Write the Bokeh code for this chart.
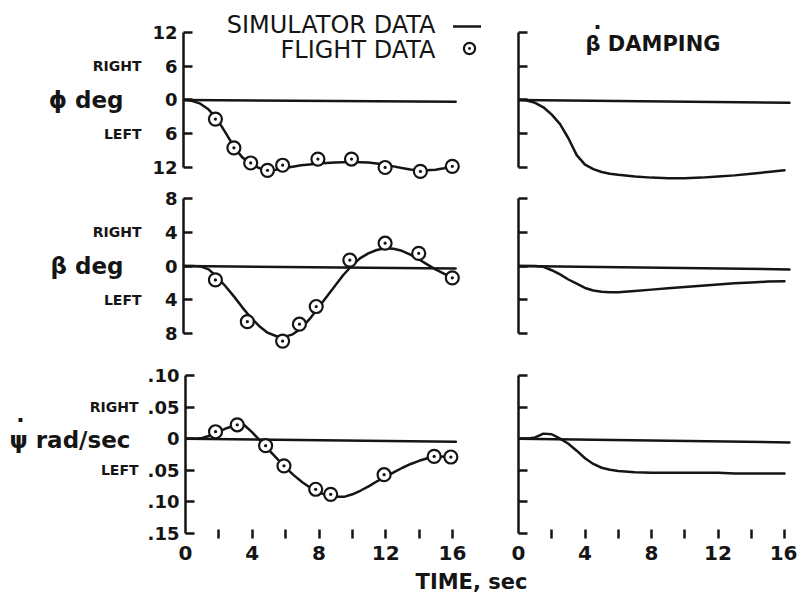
from bokeh.plotting import figure
from bokeh.models import Range1d, FixedTicker, Label, Legend, LegendItem
from bokeh.layouts import column, row
from bokeh.embed import file_html
from bokeh.resources import INLINE

INK = "#151515"
FONT = "DejaVu Sans"

# ---------------- data ----------------
sim_time = [0, 0.5, 1, 1.5, 2, 2.5, 3, 3.5, 4, 4.5, 5, 5.5, 6, 6.5, 7, 7.5, 8,
            8.5, 9, 9.5, 10, 10.5, 11, 11.5, 12, 12.5, 13, 13.5, 14, 14.5, 15, 15.5, 16]
phi_sim = [0, -0.15, -0.65, -1.7, -3.4, -5.8, -8.3, -10.2, -11.3, -12.1, -12.5, -12.4,
           -12.1, -11.85, -11.6, -11.45, -11.3, -11.2, -11.1, -11.05, -11.0, -11.05, -11.1,
           -11.3, -11.5, -11.8, -12.1, -12.35, -12.5, -12.5, -12.4, -12.15, -11.8]
beta_sim = [0, 0, -0.05, -0.4, -1.3, -2.4, -3.6, -4.9, -6.1, -7.1, -7.9, -8.3, -8.4,
            -8.1, -7.4, -6.3, -5.0, -3.7, -2.4, -1.1, 0.0, 0.9, 1.5, 1.9, 2.1, 2.05, 1.8,
            1.35, 0.8, 0.2, -0.4, -0.9, -1.4]
psi_sim = [0, 0, 0.001, 0.005, 0.011, 0.017, 0.021, 0.022, 0.010, -0.004, -0.018, -0.032,
           -0.046, -0.058, -0.069, -0.078, -0.085, -0.090, -0.092, -0.092, -0.088, -0.082,
           -0.075, -0.067, -0.060, -0.053, -0.046, -0.040, -0.035, -0.031, -0.029, -0.028, -0.027]

phi_flight_t = [1.9, 3.0, 4.0, 5.0, 5.9, 8.0, 10.0, 12.0, 14.1, 16.0]
phi_flight = [-3.4, -8.5, -11.2, -12.5, -11.6, -10.5, -10.5, -12.0, -12.7, -11.8]
beta_flight_t = [1.9, 3.8, 5.9, 6.9, 7.9, 9.9, 12.0, 14.0, 16.0]
beta_flight = [-1.65, -6.6, -8.9, -6.9, -4.8, 0.7, 2.7, 1.5, -1.4]
psi_flight_t = [1.8, 3.1, 4.8, 5.9, 7.8, 8.7, 11.9, 14.9, 15.9]
psi_flight = [0.011, 0.022, -0.011, -0.043, -0.080, -0.088, -0.057, -0.028, -0.029]

damp_time = [0, 0.5, 1, 1.5, 2, 2.5, 3, 3.5, 4, 4.5, 5, 5.5, 6, 7, 8, 9, 10, 11, 12, 13, 14, 15, 16]
phi_damp = [0, -0.1, -0.5, -1.3, -2.6, -4.3, -6.8, -9.8, -11.5, -12.3, -12.8, -13.1, -13.3,
            -13.6, -13.8, -13.9, -13.9, -13.8, -13.6, -13.4, -13.1, -12.8, -12.5]
beta_damp = [0, 0, 0, -0.1, -0.5, -1.0, -1.6, -2.1, -2.6, -2.9, -3.05, -3.1, -3.1,
             -2.95, -2.8, -2.65, -2.5, -2.35, -2.2, -2.05, -1.95, -1.85, -1.8]
psi_damp = [0, 0, 0.002, 0.008, 0.007, 0.0, -0.008, -0.019, -0.031, -0.040, -0.046, -0.049,
            -0.051, -0.053, -0.054, -0.054, -0.054, -0.054, -0.054, -0.055, -0.055, -0.055, -0.055]

# straight reference (zero) lines
ref_t_left = [0, 16.2]
phi_ref_left = [0.0, -0.3]
beta_ref_left = [0.0, -0.3]
psi_ref_left = [0.0, -0.005]
ref_t_right = [0, 16.3]
phi_ref_right = [0.0, -0.5]
beta_ref_right = [0.0, -0.4]
psi_ref_right = [0.0, -0.006]

# axis ticks and labels
phi_ticks = [-12, -6, 0, 6, 12]
phi_tick_labels = ["12", "6", "0", "6", "12"]
beta_ticks = [-8, -4, 0, 4, 8]
beta_tick_labels = ["8", "4", "0", "4", "8"]
psi_ticks = [-0.15, -0.1, -0.05, 0, 0.05, 0.1]
psi_tick_labels = [".15", ".10", ".05", "0", ".05", ".10"]
time_ticks = [0, 4, 8, 12, 16]
time_minor_ticks = [2, 4, 6, 8, 10, 12, 14, 16]

# ---------------- layout geometry (pixels) ----------------
LAB_W = 144                      # column holding the side texts
L_BL, L_FW, L_BR = 39, 303, 0    # left panels
R_BL, R_FW, R_BR = 32, 273, 6    # right panels
LX_END = L_FW / 16.8
RX_END = R_FW / 16.625

ROWS = [
    dict(h=182, top=2, bot=0, y=(-14.667, 17.333)),
    dict(h=173, top=0, bot=0, y=(-10.607, 9.896)),
    dict(h=215, top=0, bot=37, y=(-0.15, 0.1316)),
]
STRIP_H = 22


def base(w, h, xr, yr, bl=0, br=0, top=0, bot=0, xaxis=None, yaxis=None):
    p = figure(width=w, height=h, x_range=xr, y_range=yr, output_backend="svg",
               toolbar_location=None, x_axis_location=xaxis, y_axis_location=yaxis,
               min_border_left=bl, min_border_right=br, min_border_top=top,
               min_border_bottom=bot)
    p.outline_line_color = None
    p.grid.visible = False
    p.background_fill_color = "white"
    p.border_fill_color = "white"
    return p


def make(side, r, bottom_axis):
    if side == "L":
        w, bl, br, xe = L_BL + L_FW + L_BR, L_BL, L_BR, LX_END
    else:
        w, bl, br, xe = R_BL + R_FW + R_BR, R_BL, R_BR, RX_END
    p = base(w, r["h"], Range1d(0, xe), Range1d(*r["y"]), bl, br, r["top"], r["bot"],
             xaxis="below" if bottom_axis else None, yaxis="left")
    if bottom_axis:
        ax = p.xaxis[0]
        ax.ticker = FixedTicker(ticks=time_ticks, minor_ticks=time_minor_ticks)
        ax.axis_line_color = None
        ax.major_tick_line_color = None
        ax.minor_tick_in = 4
        ax.minor_tick_out = 5
        ax.minor_tick_line_width = 2.5
        ax.minor_tick_line_color = INK
        ax.major_label_standoff = 6
        ax.major_label_text_font = FONT
        ax.major_label_text_font_style = "bold"
        ax.major_label_text_font_size = "20px"
        ax.major_label_text_color = INK
    return p


def side_fig(r):
    return base(LAB_W, r["h"], Range1d(0, LAB_W), Range1d(*r["y"]),
                top=r["top"], bot=r["bot"])


def style_y(p, ticks, labels, show_labels):
    ax = p.yaxis[0]
    ax.ticker = FixedTicker(ticks=ticks)
    ax.bounds = (min(ticks), max(ticks))
    ax.axis_line_width = 2.5
    ax.axis_line_color = INK
    ax.major_tick_in = 9
    ax.major_tick_out = 0
    ax.major_tick_line_width = 2.5
    ax.major_tick_line_color = INK
    ax.minor_tick_line_color = None
    ax.major_label_standoff = 6
    ax.major_label_text_font = FONT
    ax.major_label_text_font_style = "bold"
    ax.major_label_text_font_size = "18px"
    ax.major_label_text_color = INK
    ax.major_label_overrides = {t: (l if show_labels else "") for t, l in zip(ticks, labels)}


def lab(p, x, y, text, size, bold=True, align="right", baseline="middle"):
    p.add_layout(Label(x=x, y=y, text=text, text_font=FONT, text_font_size=size,
                       text_font_style="bold" if bold else "normal", text_align=align,
                       text_baseline=baseline, text_color=INK))


def curve(p, t, v):
    return p.line(t, v, line_width=2.5, line_color=INK, line_cap="round")


def points(p, t, v):
    return p.scatter(t, v, marker="circle_dot", size=13, line_width=2.2,
                     line_color=INK, fill_color="white")


def legend_box(p, renderer, loc, gh):
    p.add_layout(Legend(items=[LegendItem(label=" ", renderers=[renderer])],
                        location=loc, glyph_width=28, glyph_height=gh,
                        label_width=0, label_standoff=0, label_text_font_size="8px",
                        padding=0, margin=0, spacing=0, border_line_color=None,
                        background_fill_alpha=0))


# ---- side text column ----
s1, s2, s3 = side_fig(ROWS[0]), side_fig(ROWS[1]), side_fig(ROWS[2])
lab(s1, 141, 6, "RIGHT", "14px")
lab(s1, 141, -6, "LEFT", "14px")
lab(s1, 123, 0, "ϕ deg", "23px")
lab(s2, 141, 4, "RIGHT", "14px")
lab(s2, 141, -4, "LEFT", "14px")
lab(s2, 123, 0, "β deg", "23px")
lab(s3, 138, 0.05, "RIGHT", "14px")
lab(s3, 138, -0.05, "LEFT", "14px")
lab(s3, 9, -0.002, "ψ rad/sec", "23px", align="left")
lab(s3, 20, 0.031, "·", "22px", align="center")        # time-derivative dot over psi

# ---- left column ----
l1 = make("L", ROWS[0], False)
l2 = make("L", ROWS[1], False)
l3 = make("L", ROWS[2], True)
style_y(l1, phi_ticks, phi_tick_labels, True)
style_y(l2, beta_ticks, beta_tick_labels, True)
style_y(l3, psi_ticks, psi_tick_labels, True)

curve(l1, ref_t_left, phi_ref_left)
r_sim = curve(l1, sim_time, phi_sim)
r_flt = points(l1, phi_flight_t, phi_flight)
curve(l2, ref_t_left, beta_ref_left)
curve(l2, sim_time, beta_sim)
points(l2, beta_flight_t, beta_flight)
curve(l3, ref_t_left, psi_ref_left)
curve(l3, sim_time, psi_sim)
points(l3, psi_flight_t, psi_flight)

lab(l1, 15.0, 13.42, "SIMULATOR DATA", "24px", bold=False)
lab(l1, 15.0, 8.8, "FLIGHT DATA", "24px", bold=False)
legend_box(l1, r_sim, (270, 146), 20)
legend_box(l1, r_flt, (272, 117), 34)

# ---- right column ----
r1 = make("R", ROWS[0], False)
r2 = make("R", ROWS[1], False)
r3 = make("R", ROWS[2], True)
style_y(r1, phi_ticks, phi_tick_labels, False)
style_y(r2, beta_ticks, beta_tick_labels, False)
style_y(r3, psi_ticks, psi_tick_labels, False)

curve(r1, ref_t_right, phi_ref_right)
curve(r1, damp_time, phi_damp)
curve(r2, ref_t_right, beta_ref_right)
curve(r2, damp_time, beta_damp)
curve(r3, ref_t_right, psi_ref_right)
curve(r3, damp_time, psi_damp)

lab(r1, 4.03, 9.87, "β DAMPING", "21px", align="left")
lab(r1, 4.75, 12.9, "·", "21px", align="center")        # time-derivative dot over beta

# ---- bottom strip with the shared time label ----
total_w = LAB_W + L_BL + L_FW + L_BR + R_BL + R_FW + R_BR
strip = base(total_w, STRIP_H, Range1d(0, total_w), Range1d(0, STRIP_H))
lab(strip, 471, STRIP_H / 2, "TIME, sec", "21px", align="center")

layout = column(row(s1, l1, r1), row(s2, l2, r2), row(s3, l3, r3), strip)
open("out.html", "w").write(file_html(layout, INLINE))
